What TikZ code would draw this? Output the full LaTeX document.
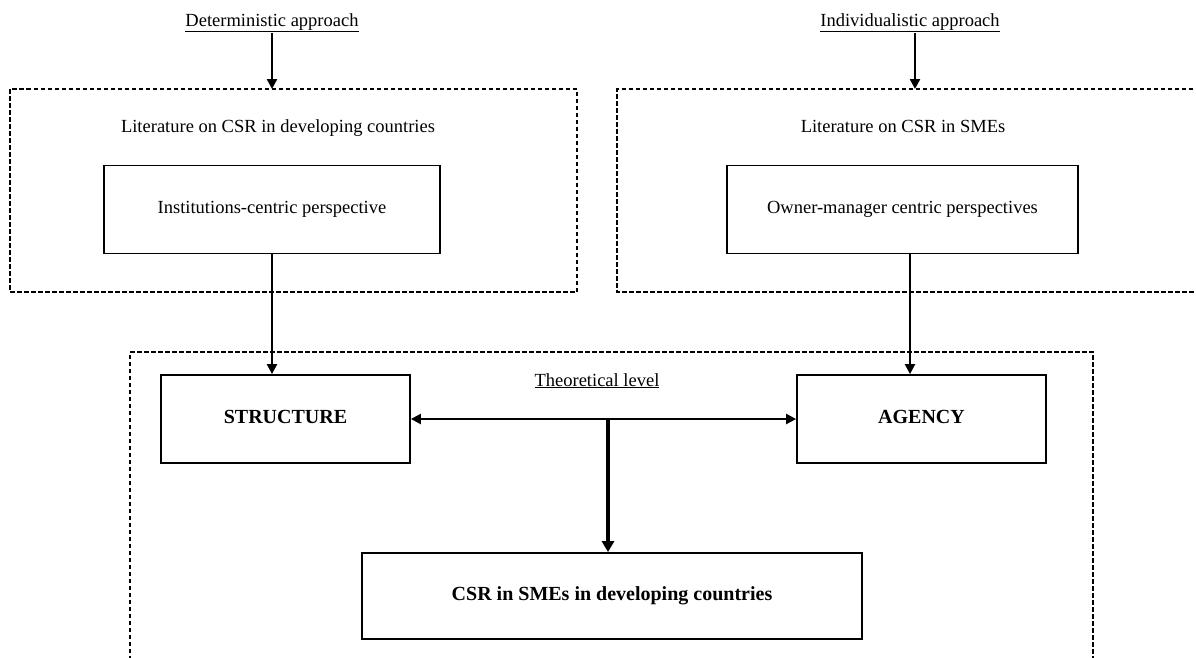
\documentclass[tikz,border=0pt]{standalone}
\usepackage{fontspec}
\setmainfont{Liberation Serif}
\usetikzlibrary{arrows.meta}

\tikzset{
  box/.style={draw, line width=1.8pt, inner sep=0pt, align=center},
  boldbox/.style={box, font=\fontsize{20}{24}\selectfont\bfseries},
  frame/.style={draw, line width=1.4pt, dash pattern=on 4.5pt off 2.5pt},
  label/.style={inner sep=0pt, anchor=base},
  link/.style={line width=2.3pt, -{Triangle[length=10pt,width=10pt]}},
  heavylink/.style={line width=3.8pt, -{Triangle[length=11pt,width=12pt]}},
  twoway/.style={line width=2.3pt, {Triangle[length=10pt,width=10pt]}-{Triangle[length=10pt,width=10pt]}},
}

\begin{document}
\begin{tikzpicture}[x=1pt, y=-1pt, font=\fontsize{18.5}{22}\selectfont]
\useasboundingbox (0,0) rectangle (1196,657);

% dashed frames
\draw[frame] (10,89) rectangle (577,292);
\draw[frame] (1200,89) -- (617,89) -- (617,292) -- (1200,292);
\draw[frame] (130,660) -- (130,352) -- (1093,352) -- (1093,660);

% headings above the frames
\node[label] (det) at (272,26) {\underline{Deterministic approach}};
\node[label] (ind) at (910,26) {\underline{Individualistic approach}};
\coordinate (detstart) at (272,33);
\coordinate (indstart) at (915,33);
\coordinate (detend) at (272,89);
\coordinate (indend) at (915,89);

% literature strands
\node[label] (litL) at (278,132) {Literature on CSR in developing countries};
\node[label] (litR) at (903,132) {Literature on CSR in SMEs};

\node[box, minimum width=336pt, minimum height=88pt] (inst) at (272,209.5) {\raisebox{3pt}{Institutions-centric perspective}};
\node[box, minimum width=351pt, minimum height=88pt] (owner) at (902.5,209.5) {\raisebox{3pt}{Owner-manager centric perspectives}};

% theoretical level
\node[label] (theo) at (597,386) {\underline{Theoretical level}};
\node[boldbox, minimum width=249pt, minimum height=88pt] (struct) at (285.5,419) {\raisebox{4pt}{STRUCTURE}};
\node[boldbox, minimum width=249pt, minimum height=88pt] (agency) at (921.5,419) {\raisebox{4pt}{AGENCY}};
\node[boldbox, minimum width=500pt, minimum height=86pt] (csr) at (612,596) {\raisebox{5pt}{CSR in SMEs in developing countries}};

% connectors
\draw[link] (detstart) -- (detend);
\draw[link] (indstart) -- (indend);
\draw[link] (inst.south) -- (inst.south |- struct.north);
\coordinate (ownerout) at (910,253.5);
\draw[link] (ownerout) -- (ownerout |- agency.north);
\draw[twoway] (struct.east) -- (agency.west);
\coordinate (junction) at (608,419);
\draw[heavylink] (junction) -- (junction |- csr.north);
\end{tikzpicture}
\end{document}
